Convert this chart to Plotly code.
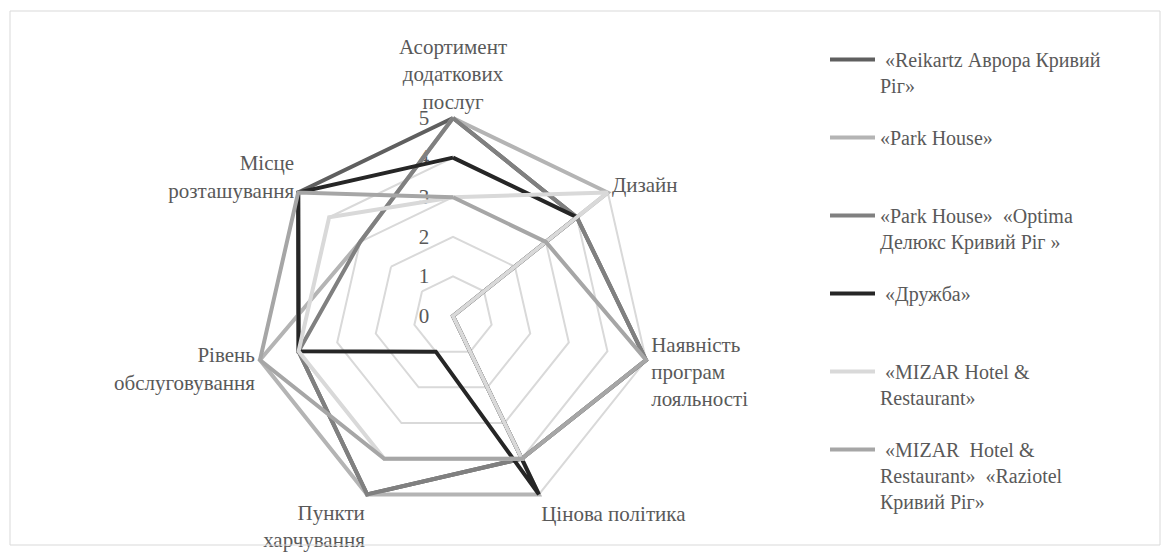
import plotly.graph_objects as go

categories = [
    "Асортимент<br>додаткових<br>послуг",
    "Дизайн",
    "Наявність<br>програм<br>лояльності",
    "Цінова політика",
    "Пункти<br>харчування",
    "Рівень<br>обслуговування",
    "Місце<br>розташування",
]

series_names = [
    " «Reikartz Аврора Кривий<br>Ріг»",
    "«Park House»<br> ",
    "«Park House»  «Optima<br>Делюкс Кривий Ріг »",
    " «Дружба»<br> ",
    " «MIZAR Hotel &<br>Restaurant»",
    " «MIZAR  Hotel &<br>Restaurant»  «Raziotel<br>Кривий Ріг»",
]

reikartz = [5, 4, 5, 4, 5, 4, 5]
park_house = [5, 5, 0, 5, 5, 5, 3]
optima = [5, 4, 5, 4, 5, 4, 3]
druzhba = [4, 4, 0, 5, 1, 4, 5]
mizar = [3, 5, 0, 4, 4, 4, 4]
raziotel = [3, 3, 5, 4, 4, 5, 5]

tick_values = [0, 1, 2, 3, 4, 5]
tick_labels = ["0", "1", "2", "3", "4", "5"]

series_values = [reikartz, park_house, optima, druzhba, mizar, raziotel]
colors = ["#5f5f5f", "#b4b4b4", "#808080", "#262626", "#d9d9d9", "#a6a6a6"]

FONT = "Liberation Serif, Times New Roman, Liberation Sans, Arial, sans-serif"
FS = 21

fig = go.Figure()
for name, vals, col in zip(series_names, series_values, colors):
    fig.add_trace(go.Scatterpolar(
        r=vals + vals[:1],
        theta=categories + categories[:1],
        mode="lines",
        name=name,
        line=dict(color=col, width=4),
        cliponaxis=False,
        legendgroup=name,
    ))

W, H = 1171, 556
RMAX = 5.12
cx, cy = 453, 316
rad = 198 * RMAX / 5

fig.update_layout(
    width=W, height=H,
    margin=dict(l=0, r=0, t=0, b=0),
    paper_bgcolor="white",
    plot_bgcolor="white",
    font=dict(family=FONT, size=FS, color="#595959"),
    polar=dict(
        domain=dict(x=[(cx - rad) / W, (cx + rad) / W],
                    y=[(H - cy - rad) / H, (H - cy + rad) / H]),
        bgcolor="white",
        gridshape="linear",
        angularaxis=dict(
            direction="clockwise",
            rotation=90,
            showgrid=False,
            showline=False,
            ticks="",
            tickfont=dict(family=FONT, size=FS, color="#595959"),
        ),
        radialaxis=dict(
            range=[0, RMAX],
            tickvals=tick_values,
            ticktext=tick_labels,
            angle=90,
            side="counterclockwise",
            tickangle=90,
            showline=False,
            ticks="outside",
            ticklen=16,
            tickcolor="rgba(0,0,0,0)",
            gridcolor="#d9d9d9",
            gridwidth=1.5,
            layer="below traces",
            tickfont=dict(family=FONT, size=FS, color="#595959"),
        ),
    ),
    legend=dict(
        x=825 / W, y=1 - 40 / H,
        xanchor="left", yanchor="top",
        valign="top",
        tracegroupgap=23,
        itemwidth=45,
        font=dict(family=FONT, size=FS - 1, color="#595959"),
        bgcolor="rgba(0,0,0,0)",
    ),
    shapes=[dict(type="rect", xref="paper", yref="paper",
                 x0=10 / W, x1=1160 / W, y0=1 - 545 / H, y1=1 - 11 / H,
                 line=dict(color="#d9d9d9", width=1))],
)

fig.write_html("out.html", config={"displayModeBar": False},
               post_script="document.body.style.margin='0';")
